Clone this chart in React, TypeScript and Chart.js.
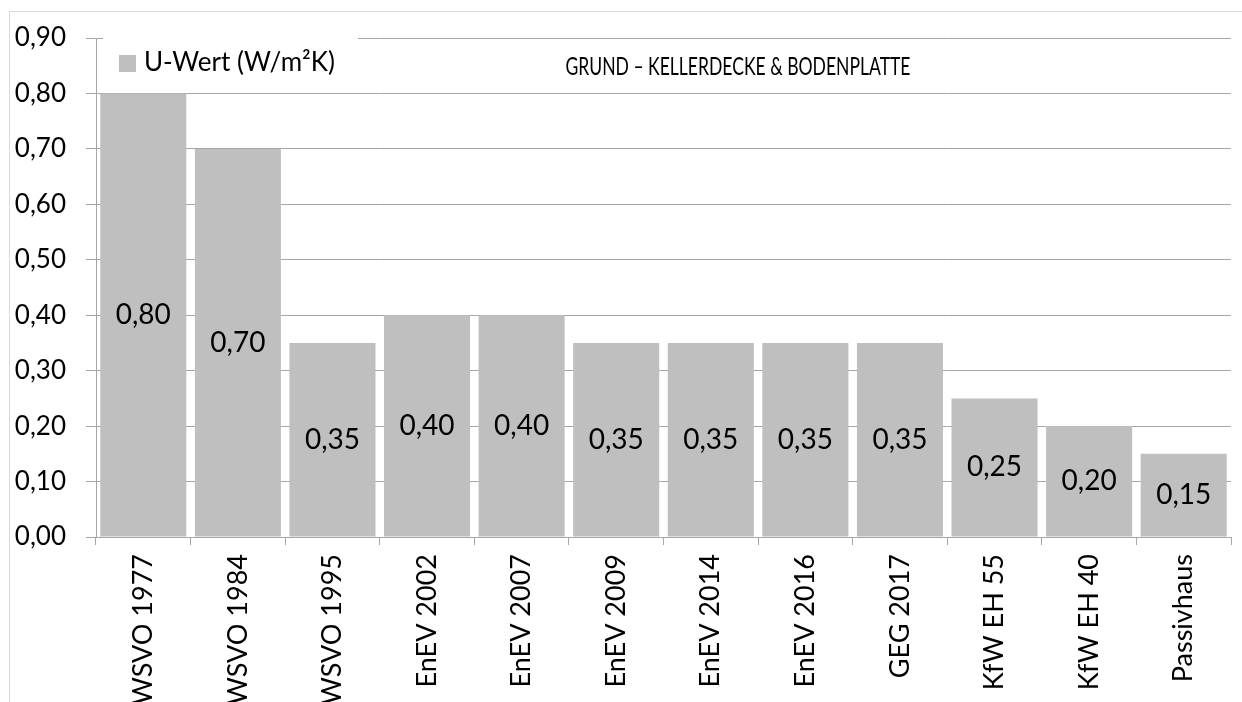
import React, { useEffect, useRef } from 'react';
import { Chart, registerables } from 'chart.js';

Chart.register(...registerables);

const categories = [
  'WSVO 1977', 'WSVO 1984', 'WSVO 1995', 'EnEV 2002', 'EnEV 2007', 'EnEV 2009',
  'EnEV 2014', 'EnEV 2016', 'GEG 2017', 'KfW EH 55', 'KfW EH 40', 'Passivhaus',
];
const uValues = [0.8, 0.7, 0.35, 0.4, 0.4, 0.35, 0.35, 0.35, 0.35, 0.25, 0.2, 0.15];
const seriesLabel = 'U-Wert (W/m²K)';
const chartTitle = 'GRUND – KELLERDECKE & BODENPLATTE';
const yMin = 0;
const yMax = 0.9;
const yStep = 0.1;

const FONT = 'Lato';
const BAR_COLOR = '#bfbfbf';
const GRID_COLOR = '#a6a6a6';

const fmt = (v: number) => v.toFixed(2).replace('.', ',');

const valueLabelPlugin = {
  id: 'valueLabels',
  afterDatasetsDraw(chart: any) {
    const ctx = chart.ctx;
    const meta = chart.getDatasetMeta(0);
    const data = chart.data.datasets[0].data as number[];
    ctx.save();
    ctx.font = `28px ${FONT}`;
    ctx.fillStyle = '#000';
    ctx.textAlign = 'center';
    ctx.textBaseline = 'middle';
    meta.data.forEach((el: any, i: number) => {
      const y = (el.y + el.base) / 2;
      ctx.fillText(fmt(data[i]), el.x, y);
    });
    ctx.restore();
  },
};

const overlayPlugin = {
  id: 'overlay',
  afterDraw(chart: any) {
    const ctx = chart.ctx;
    const area = chart.chartArea;
    ctx.save();
    // legend box (white, covers the top gridline)
    ctx.fillStyle = '#fff';
    ctx.fillRect(area.left + 7, area.top - 6, 255, 50);
    ctx.fillStyle = BAR_COLOR;
    ctx.fillRect(area.left + 23, area.top + 17, 17, 17);
    ctx.fillStyle = '#000';
    ctx.font = `26px ${FONT}`;
    ctx.textAlign = 'left';
    ctx.textBaseline = 'middle';
    ctx.fillText(seriesLabel, area.left + 48, area.top + 25);
    // title inside plot area
    ctx.font = `25px ${FONT}`;
    ctx.textAlign = 'center';
    ctx.fillText(chartTitle, area.left + 642, area.top + 29, 345);
    ctx.restore();
  },
};

export default function App() {
  const ref = useRef<HTMLCanvasElement>(null);

  useEffect(() => {
    if (!ref.current) return;
    const chart = new Chart(ref.current, {
      type: 'bar',
      data: {
        labels: categories,
        datasets: [
          {
            label: seriesLabel,
            data: uValues,
            backgroundColor: BAR_COLOR,
            borderWidth: 0,
            barPercentage: 0.91,
            categoryPercentage: 1,
          },
        ],
      },
      options: {
        responsive: false,
        animation: false,
        layout: { padding: { top: 26, right: 11, left: 0, bottom: 0 } },
        plugins: {
          legend: { display: false },
          title: { display: false },
          tooltip: { enabled: false },
        },
        scales: {
          x: {
            grid: {
              display: true,
              drawOnChartArea: false,
              drawTicks: true,
              tickLength: 8,
              color: GRID_COLOR,
              offset: true,
            },
            border: { display: true, color: GRID_COLOR },
            ticks: {
              autoSkip: false,
              minRotation: 90,
              maxRotation: 90,
              padding: 9,
              color: '#000',
              font: { family: FONT, size: 27 },
            },
            afterFit(scale: any) {
              scale.height = 165;
              scale.paddingLeft = 0;
              scale.paddingRight = 0;
            },
          },
          y: {
            min: yMin,
            max: yMax,
            ticks: {
              stepSize: yStep,
              padding: 20,
              color: '#000',
              font: { family: FONT, size: 26 },
              callback: (v: any) => fmt(Number(v)),
            },
            grid: {
              color: GRID_COLOR,
              tickLength: 10,
              drawTicks: true,
            },
            border: { display: true, color: GRID_COLOR },
            afterFit(scale: any) {
              scale.width = 86;
              scale.paddingTop = 0;
              scale.paddingBottom = 0;
            },
          },
        },
      },
      plugins: [valueLabelPlugin, overlayPlugin],
    });
    return () => chart.destroy();
  }, []);

  return (
    <div
      style={{
        position: 'absolute',
        left: 9,
        top: 11,
        width: 1233,
        height: 691,
        borderTop: '1px solid #d9d9d9',
        borderLeft: '1px solid #d9d9d9',
        background: '#fff',
        overflow: 'hidden',
      }}
    >
      <canvas ref={ref} width={1232} height={690} style={{ display: 'block' }} />
    </div>
  );
}
